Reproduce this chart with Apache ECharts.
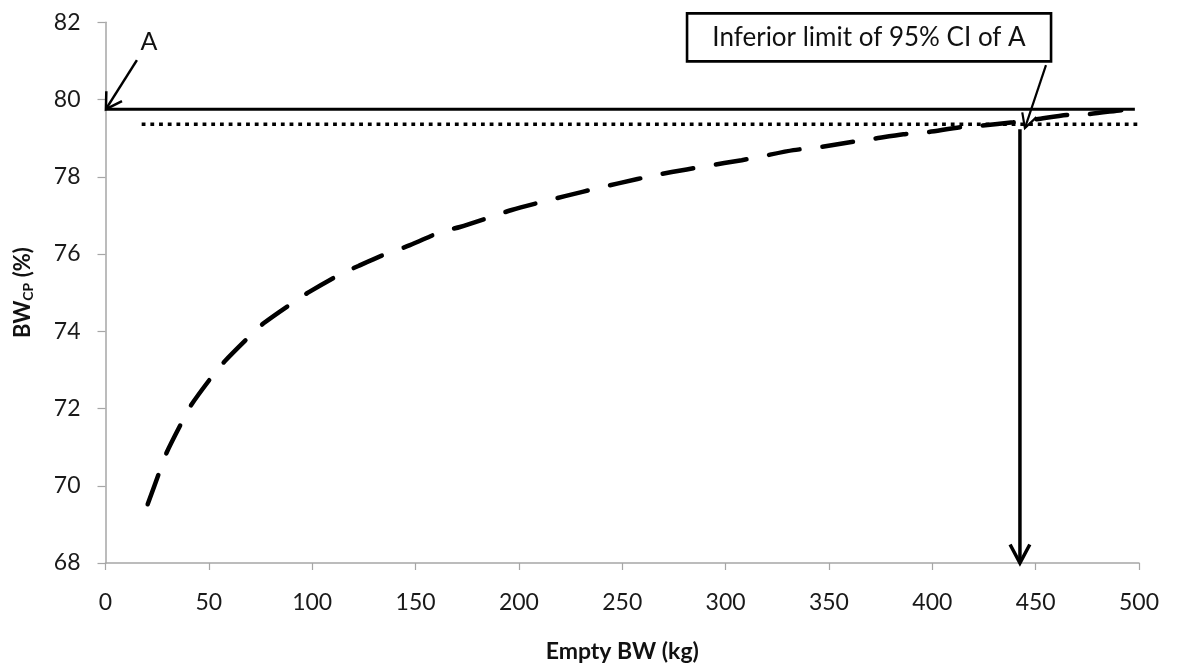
<!DOCTYPE html>
<html>
<head>
<meta charset="utf-8">
<script src="https://cdn.jsdelivr.net/npm/echarts@6/dist/echarts.min.js"></script>
<style>
html,body{margin:0;padding:0;background:#fff;}
#c{width:1180px;height:672px;}
</style>
</head>
<body>
<div id="c"></div>
<script>
// ---- data ----
const xTicks = [0, 50, 100, 150, 200, 250, 300, 350, 400, 450, 500];
const yTicks = [68, 70, 72, 74, 76, 78, 80, 82];
const curveX = [20.4, 26.4, 29.6, 37.2, 41.7, 51.7, 57.8, 69.9, 76.8, 90.9, 98.6, 113.4, 122.3, 132.8, 147.3, 162.6, 171.5, 187.6, 196.5, 213.4, 222.3, 239.2, 248.1, 266.7, 281.2, 290.9, 307.8, 316.6, 332.8, 343.2, 359.4, 370, 386, 395.7, 413.4, 421.5, 439.2, 450.5, 465, 474.7, 492.4, 497];
const curveY = [69.52, 70.4, 70.86, 71.67, 72.11, 72.84, 73.23, 73.88, 74.22, 74.75, 75.02, 75.47, 75.69, 75.94, 76.23, 76.58, 76.7, 76.98, 77.14, 77.38, 77.5, 77.72, 77.83, 78.05, 78.19, 78.28, 78.43, 78.52, 78.69, 78.75, 78.89, 78.97, 79.1, 79.14, 79.28, 79.31, 79.41, 79.49, 79.6, 79.62, 79.73, 79.75];
const asymptoteX = [0, 498];
const asymptoteY = [79.75, 79.75];
const ciLimitX = [17.5, 515];
const ciLimitY = [79.36, 79.36];
// annotation anchors (data units): [fromX, fromY, toX, toY]
const arrowA = [15.2, 81.02, 0.2, 79.75];
const arrowBox = [455, 80.89, 444.8, 79.26];
const arrowDown = [442.4, 79.23, 442.4, 68];
const labelA = { text: 'A', x: 21, y: 81.49 };
const labelBox = { text: 'Inferior limit of 95% CI of A', x: 369.4, y: 81.61 };

// ---- chart ----
const FONT = 'Lato, "Open Sans", sans-serif';
const chart = echarts.init(document.getElementById('c'), null, { renderer: 'canvas' });

function zip(xs, ys) { return xs.map((x, i) => [x, ys[i]]); }

const arrowStyles = [
  { d: arrowA, w: 2.5, L: 18, ang: 31 },
  { d: arrowBox, w: 2.2, L: 16, ang: 28 },
  { d: arrowDown, w: 3.5, L: 21, ang: 28 }
];

function renderArrow(params, api) {
  const s = arrowStyles[params.dataIndex];
  const p1 = api.coord([api.value(0), api.value(1)]);
  const p2 = api.coord([api.value(2), api.value(3)]);
  const a = Math.atan2(p1[1] - p2[1], p1[0] - p2[0]);
  const r = s.ang * Math.PI / 180;
  const h1 = [p2[0] + s.L * Math.cos(a + r), p2[1] + s.L * Math.sin(a + r)];
  const h2 = [p2[0] + s.L * Math.cos(a - r), p2[1] + s.L * Math.sin(a - r)];
  const st = { stroke: '#000', lineWidth: s.w, fill: null, lineJoin: 'miter', lineCap: 'butt' };
  return {
    type: 'group',
    children: [
      { type: 'line', shape: { x1: p1[0], y1: p1[1], x2: p2[0], y2: p2[1] }, style: st },
      { type: 'polyline', shape: { points: [h1, p2, h2] }, style: st }
    ]
  };
}

function renderLabels(params, api) {
  const p = api.coord([api.value(0), api.value(1)]);
  if (params.dataIndex === 0) {
    return { type: 'text', x: p[0], y: p[1], style: { text: labelA.text, font: '25px ' + FONT, fill: '#111', align: 'center', verticalAlign: 'middle' } };
  }
  const w = 364, h = 48;
  return {
    type: 'group',
    children: [
      { type: 'rect', shape: { x: p[0] - w / 2, y: p[1] - h / 2, width: w, height: h }, style: { fill: '#fff', stroke: '#000', lineWidth: 2.6 } },
      { type: 'text', x: p[0], y: p[1], style: { text: labelBox.text, font: '26px ' + FONT, fill: '#111', align: 'center', verticalAlign: 'middle' } }
    ]
  };
}

const option = {
  backgroundColor: '#fff',
  animation: false,
  grid: { left: 105.5, right: 41, top: 22.3, bottom: 109, containLabel: false, outerBoundsMode: 'none' },
  xAxis: {
    type: 'value', min: 0, max: 500, interval: 50,
    name: 'Empty BW (kg)', nameLocation: 'middle', nameGap: 77,
    nameTextStyle: { fontFamily: FONT, fontSize: 23, fontWeight: 'bold', color: '#111' },
    axisLine: { show: true, onZero: false, lineStyle: { color: '#a6a6a6', width: 1.5 } },
    axisTick: { show: true, length: 7, lineStyle: { color: '#a6a6a6', width: 1.2 } },
    axisLabel: { margin: 28, fontFamily: FONT, fontSize: 23, color: '#1a1a1a', formatter: v => xTicks.includes(v) ? String(v) : '' },
    splitLine: { show: false }
  },
  yAxis: {
    type: 'value', min: 68, max: 82, interval: 2,
    name: '{a|BW}{b|CP}{a| (%)}', nameLocation: 'middle', nameGap: 70, nameRotate: 90,
    nameTextStyle: {
      rich: {
        a: { fontFamily: FONT, fontSize: 22, fontWeight: 'bold', color: '#111', lineHeight: 26, verticalAlign: 'middle' },
        b: { fontFamily: FONT, fontSize: 14, fontWeight: 'bold', color: '#111', verticalAlign: 'bottom' }
      }
    },
    axisLine: { show: true, onZero: false, lineStyle: { color: '#a6a6a6', width: 1.5 } },
    axisTick: { show: true, length: 8, lineStyle: { color: '#a6a6a6', width: 1.2 } },
    axisLabel: { margin: 25, fontFamily: FONT, fontSize: 23, color: '#1a1a1a', formatter: v => yTicks.includes(v) ? String(v) : '' },
    splitLine: { show: false }
  },
  series: [
    {
      type: 'line', data: zip(asymptoteX, asymptoteY), symbol: 'none', silent: true,
      lineStyle: { color: '#000', width: 3 }
    },
    {
      type: 'line', data: zip(ciLimitX, ciLimitY), symbol: 'none', silent: true, clip: false,
      lineStyle: { color: '#000', width: 3.5, type: [3.8, 4.9], cap: 'butt' }
    },
    {
      type: 'line', data: zip(curveX, curveY), symbol: 'none', silent: true, smooth: 0.25,
      lineStyle: { color: '#000', width: 4.5, type: [31, 23], cap: 'round' }
    },
    {
      type: 'custom', coordinateSystem: 'cartesian2d', clip: false, silent: true,
      data: arrowStyles.map(s => s.d),
      encode: { x: [0, 2], y: [1, 3] },
      renderItem: renderArrow
    },
    {
      type: 'custom', coordinateSystem: 'cartesian2d', clip: false, silent: true, z: 5,
      data: [[labelA.x, labelA.y], [labelBox.x, labelBox.y]],
      encode: { x: 0, y: 1 },
      renderItem: renderLabels
    }
  ]
};
chart.setOption(option);
</script>
</body>
</html>
